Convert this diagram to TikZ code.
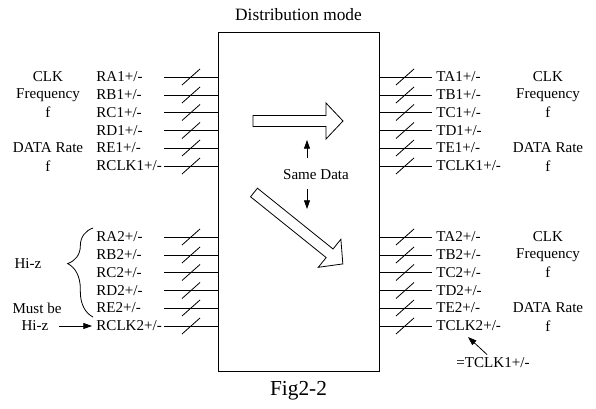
\documentclass[tikz,border=0pt]{standalone}
\usepackage{fontspec}
\setmainfont{Liberation Serif}
\usetikzlibrary{arrows.meta,decorations.pathreplacing}

\newcommand*{\boxl}{218}
\newcommand*{\boxr}{379}
\newcommand*{\fatarrow}[1]{(0,-5.5) -- ({#1-17},-5.5) -- ({#1-17},-18) -- (#1,0) -- ({#1-17},18) -- ({#1-17},5.5) -- (0,5.5) -- cycle}

\begin{document}
\begin{tikzpicture}
[
	x=0.75pt, y=-0.75pt,
	line width=0.6pt,
	pinlbl/.style={inner sep=0pt, anchor=west, font=\fontsize{11.3}{12}\selectfont},
	sidelbl/.style={inner sep=0pt, font=\fontsize{11.3}{12}\selectfont},
	tipped/.style={-{Triangle[length=6.5pt,width=4.5pt]}}
]
	\useasboundingbox (0,0) rectangle (596,409);

	% chip outline
	\node[draw, inner sep=0pt, minimum width=120.75pt, minimum height=254.25pt] (box) at (298.5,201.5) {};
	\node[font=\fontsize{13}{14}\selectfont] (title) at (298.5,15) {Distribution mode};
	\node[font=\fontsize{16}{18}\selectfont] (fig) at (298.5,391) {Fig2-2};

	% receive pins
	\foreach \nm/\y in {RA1/77, RB1/95, RC1/112.5, RD1/130.5, RE1/148, RCLK1/166,
		RA2/237, RB2/255, RC2/272.5, RD2/290.5, RE2/308, RCLK2/326}
	{
		\node[pinlbl] (l-\nm) at (96,\y) {\nm+/-};
		\coordinate (lp-\nm) at (164,\y);
		\draw (lp-\nm) -- (lp-\nm -| box.west);
		\draw (182,{\y+8}) -- (200,{\y-8});
	}

	% transmit pins
	\foreach \nm/\y in {TA1/77, TB1/95, TC1/112.5, TD1/130.5, TE1/148, TCLK1/166,
		TA2/237, TB2/255, TC2/272.5, TD2/290.5, TE2/308, TCLK2/326}
	{
		\coordinate (rp-\nm) at (432,\y);
		\node[pinlbl] (r-\nm) at (436,\y) {\nm+/-};
		\draw (rp-\nm -| box.east) -- (rp-\nm);
		\draw (396,{\y+8}) -- (414,{\y-8});
	}

	% left notes
	\node[sidelbl] (lclk) at (48,77) {CLK};
	\node[sidelbl] (lfreq) at (48,95) {Frequency};
	\node[sidelbl] (lf) at (48,112.5) {f};
	\node[sidelbl] (lrate) at (48,148) {DATA Rate};
	\node[sidelbl] (lf2) at (48,166) {f};
	%
	\node[sidelbl] (hiz) at (28,264) {Hi-z};
	\draw[decorate, decoration={brace, amplitude=19pt, aspect=0.6}] (93,317) -- (93,228);
	\node[sidelbl] (mustbe) at (37,308) {Must be};
	\node[sidelbl] (mustz) at (35,326) {Hi-z};
	\coordinate (mustz-tip) at (92,326);
	\draw[tipped] (mustz.east) ++(10,0) -- (mustz-tip);

	% right notes
	\node[sidelbl] (rclk) at (548,77) {CLK};
	\node[sidelbl] (rfreq) at (548,95) {Frequency};
	\node[sidelbl] (rf) at (548,112.5) {f};
	\node[sidelbl] (rrate) at (548,148) {DATA Rate};
	\node[sidelbl] (rf2) at (548,166) {f};
	%
	\node[sidelbl] (rclkb) at (548,237) {CLK};
	\node[sidelbl] (rfreqb) at (548,255) {Frequency};
	\node[sidelbl] (rfb) at (548,272.5) {f};
	\node[sidelbl] (rrateb) at (548,308) {DATA Rate};
	\node[sidelbl] (rf2b) at (548,326) {f};
	%
	\node[sidelbl] (same2) at (493,363) {=TCLK1+/-};
	\coordinate (same2-tip) at (468,337);
	\draw[tipped] (same2.north) ++(-6,-3) -- (same2-tip);

	% data flow
	\draw[shift={(253,121)}] \fatarrow{90};
	\draw[shift={(254,192.5)}, rotate=-38.8] \fatarrow{114};
	\node[sidelbl] (same) at (316,175) {Same Data};
	\coordinate (up-tip) at (307,140);
	\coordinate (dn-tip) at (307,209);
	\draw[tipped] (same.north -| up-tip) ++(0,-12) -- (up-tip);
	\draw[tipped] (same.south -| dn-tip) ++(0,9) -- (dn-tip);

\end{tikzpicture}
\end{document}
